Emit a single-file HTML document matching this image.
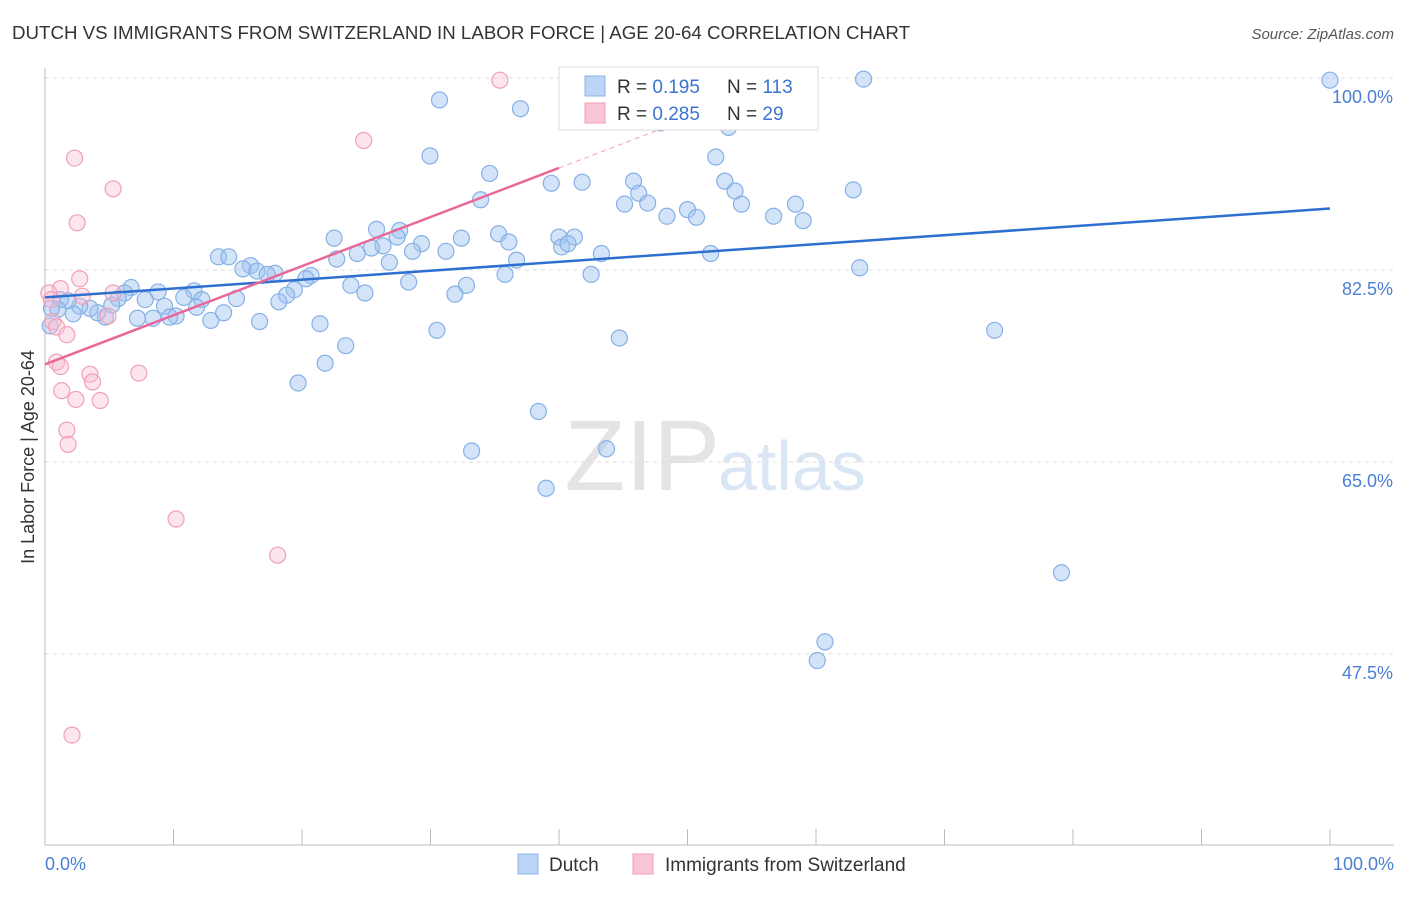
<!DOCTYPE html>
<html><head><meta charset="utf-8"><style>
body{margin:0;background:#fff;font-family:"Liberation Sans",sans-serif;}
svg text{font-family:"Liberation Sans",sans-serif;}
</style></head><body>
<svg id="chart" width="1406" height="892">
<text x="12" y="39" font-size="18" fill="#333" textLength="898" lengthAdjust="spacingAndGlyphs">DUTCH VS IMMIGRANTS FROM SWITZERLAND IN LABOR FORCE | AGE 20-64 CORRELATION CHART</text>
<text x="1394" y="39" font-size="15" fill="#555" font-style="italic" text-anchor="end">Source: ZipAtlas.com</text>
<text x="720" y="490" font-size="100" fill="#e4e4e4" text-anchor="end" font-family="Liberation Serif">ZIP</text>
<text x="718" y="490" font-size="70" fill="#dbe6f5">atlas</text>
<g id="grid"></g>
<g id="axes"></g>
<g id="marks"></g>
<text transform="translate(34,457) rotate(-90)" font-size="18" fill="#333" text-anchor="middle">In Labor Force | Age 20-64</text>
<text x="45" y="870" font-size="18" fill="#4a7fd4">0.0%</text>
<text x="1394" y="870" font-size="18" fill="#4a7fd4" text-anchor="end">100.0%</text>
<g>
<rect x="559" y="67" width="259" height="63" fill="#fff" stroke="#ddd"/>
<rect x="585" y="76" width="20" height="20" fill="#bcd4f6" stroke="#8ab4e8"/>
<rect x="585" y="103" width="20" height="20" fill="#f9c6d6" stroke="#f0a0b8"/>
<text x="617" y="93" font-size="19" fill="#333">R = <tspan fill="#3a74d0">0.195</tspan></text>
<text x="727" y="93" font-size="19" fill="#333">N = <tspan fill="#3a74d0">113</tspan></text>
<text x="617" y="120" font-size="19" fill="#333">R = <tspan fill="#3a74d0">0.285</tspan></text>
<text x="727" y="120" font-size="19" fill="#333">N = <tspan fill="#3a74d0"> 29</tspan></text>
</g>
<g>
<rect x="518" y="854" width="20" height="20" fill="#bcd4f6" stroke="#8ab4e8"/>
<text x="549" y="871" font-size="19" fill="#333">Dutch</text>
<rect x="633" y="854" width="20" height="20" fill="#f9c6d6" stroke="#f0a0b8"/>
<text x="665" y="871" font-size="19" fill="#333">Immigrants from Switzerland</text>
</g>
</svg>
<script>
const yTicks=[100,82.5,65,47.5];
const yTickLabels=["100.0%","82.5%","65.0%","47.5%"];
const dutchX=[100,63.7,30.7,37.0,53.2,47.9,29.96,52.2,34.6,39.4,41.8,45.8,52.9,46.2,53.7,62.9,33.9,45.1,46.9,54.2,58.4,50.0,48.4,50.7,56.7,59.0,25.8,27.6,22.5,32.4,35.3,39.99,41.2,36.1,27.4,29.3,26.3,25.4,24.3,22.7,28.6,31.2,40.2,40.7,43.3,51.8,36.7,26.8,13.5,14.3,16.0,15.4,16.5,17.9,17.3,20.7,20.3,35.8,42.5,63.4,23.8,28.3,32.8,24.9,31.9,19.4,18.8,18.2,14.9,11.6,12.2,10.8,8.8,7.8,6.7,6.2,5.7,5.2,9.3,11.8,13.9,12.9,10.2,9.7,8.4,7.2,4.7,4.1,3.5,2.7,2.2,1.8,1.2,1.0,0.5,0.4,16.7,21.4,30.5,44.7,23.4,21.8,19.7,73.9,38.4,33.2,43.7,39.0,79.1,60.7,60.1];
const dutchY=[99.8,99.9,98.0,97.2,95.5,95.9,92.9,92.8,91.3,90.4,90.5,90.6,90.6,89.5,89.7,89.8,88.9,88.5,88.6,88.5,88.5,88.0,87.4,87.3,87.4,87.0,86.2,86.1,85.4,85.4,85.8,85.5,85.5,85.05,85.5,84.9,84.7,84.5,84.0,83.5,84.2,84.2,84.6,84.9,84.0,84.0,83.4,83.2,83.7,83.7,82.9,82.6,82.4,82.2,82.1,82.0,81.7,82.1,82.1,82.7,81.1,81.4,81.1,80.4,80.3,80.7,80.2,79.6,79.9,80.6,79.8,80.0,80.5,79.8,80.9,80.4,79.9,79.3,79.2,79.1,78.6,77.9,78.3,78.2,78.1,78.1,78.2,78.6,79.0,79.2,78.5,79.7,79.8,78.9,79.0,77.4,77.8,77.6,77.0,76.3,75.6,74.0,72.2,77.0,69.6,66.0,66.2,62.6,54.9,48.6,46.9];
const swissX=[35.4,24.8,2.3,5.3,2.5,2.7,1.2,0.3,2.9,5.3,0.5,4.9,0.6,0.9,1.7,0.9,1.2,7.3,3.5,3.7,1.3,2.4,4.3,1.7,1.8,10.2,18.1,2.1];
const swissY=[99.8,94.3,92.7,89.9,86.8,81.7,80.8,80.4,80.1,80.4,79.8,78.3,77.8,77.3,76.6,74.1,73.7,73.1,73.0,72.3,71.5,70.7,70.6,67.9,66.6,59.8,56.5,40.1];
const dutchTrend=[80.0,88.1];
const swissTrend=[73.9,91.8];
const swissTrendEnd=40;
const NS="http://www.w3.org/2000/svg";
const xs=v=>45+v*12.85;
const ys=v=>78+(100-v)*10.97;
function mk(tag,attrs,parent){const e=document.createElementNS(NS,tag);for(const k in attrs)e.setAttribute(k,attrs[k]);parent.appendChild(e);return e;}
const grid=document.getElementById('grid'),axes=document.getElementById('axes'),marks=document.getElementById('marks');
yTicks.forEach((t,i)=>{
 const l=mk('line',{x1:45,x2:1394,y1:ys(t),y2:ys(t),stroke:'#ddd','stroke-dasharray':'4,4'},grid);
 
 
 const tx=mk('text',{x:1393,y:ys(t)+25,'font-size':18,fill:'#4a7fd4','text-anchor':'end'},grid);
 tx.textContent=yTickLabels[i];
 
 
});
const ax=mk('line',{x1:45,x2:45,y1:68,y2:845,stroke:'#bbb'},axes);


const bx=mk('line',{x1:45,x2:1394,y1:845,y2:845,stroke:'#bbb'},axes);


for(let i=0;i<=10;i++){
 const t=mk('line',{x1:xs(i*10),x2:xs(i*10),y1:829,y2:845,stroke:'#bbb'},axes);
 
 
}
dutchX.forEach((v,i)=>{
 const c=mk('circle',{cx:xs(v),cy:ys(dutchY[i]),r:8,fill:'rgba(160,195,240,0.45)',stroke:'#86b0e6','stroke-width':1.2},marks);
 
 
});
swissX.forEach((v,i)=>{
 const c=mk('circle',{cx:xs(v),cy:ys(swissY[i]),r:8,fill:'rgba(248,190,210,0.4)',stroke:'#f0a0b8','stroke-width':1.2},marks);
 
 
});
const dl=mk('line',{x1:xs(0),y1:ys(dutchTrend[0]),x2:xs(100),y2:ys(dutchTrend[1]),stroke:'#2f6fd0','stroke-width':2.5},marks);


const sl=mk('line',{x1:xs(0),y1:ys(swissTrend[0]),x2:xs(swissTrendEnd),y2:ys(swissTrend[1]),stroke:'#e8689a','stroke-width':2.5},marks);


const slope=(swissTrend[1]-swissTrend[0])/swissTrendEnd;
const sd=mk('line',{x1:xs(swissTrendEnd),y1:ys(swissTrend[1]),x2:xs(52),y2:ys(swissTrend[0]+slope*52),stroke:'#f0a0b8','stroke-width':1,'stroke-dasharray':'5,4'},marks);


</script>
</body></html>
